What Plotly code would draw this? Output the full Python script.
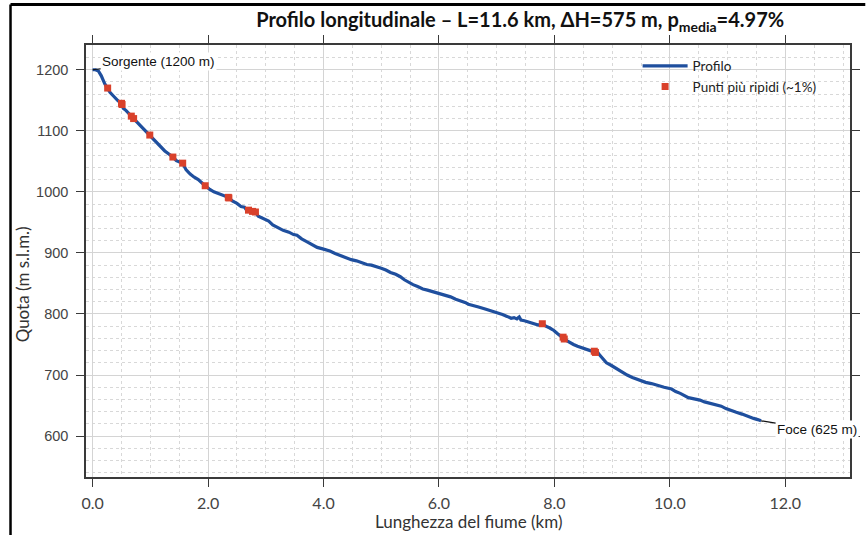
import plotly.graph_objects as go

# Longitudinal river profile: distance from source (km) and elevation (m a.s.l.)
dist_km = [
    0.00, 0.05, 0.10, 0.15, 0.21, 0.26, 0.30, 0.36, 0.44, 0.50, 0.53, 0.58, 0.63, 0.67, 0.71,
    0.77, 0.84, 0.90, 0.95, 0.99, 1.05, 1.12, 1.18, 1.25, 1.32, 1.39, 1.45, 1.50, 1.56, 1.62,
    1.69, 1.76, 1.83, 1.90, 1.95, 2.03, 2.10, 2.18, 2.26, 2.35, 2.42, 2.50, 2.57, 2.63, 2.66,
    2.70, 2.77, 2.82, 2.87, 2.97, 3.05, 3.12, 3.20, 3.30, 3.40, 3.48, 3.54, 3.62, 3.70, 3.78,
    3.89, 3.97, 4.05, 4.11, 4.20, 4.30, 4.40, 4.48, 4.57, 4.66, 4.75, 4.83, 4.91, 5.00, 5.08,
    5.16, 5.25, 5.33, 5.40, 5.48, 5.55, 5.63, 5.72, 5.80, 5.88, 5.94, 6.00, 6.05, 6.12, 6.20,
    6.29, 6.39, 6.45, 6.51, 6.60, 6.70, 6.80, 6.91, 7.00, 7.10, 7.18, 7.25, 7.30, 7.35, 7.39,
    7.42, 7.48, 7.55, 7.65, 7.72, 7.79, 7.85, 7.92, 7.99, 8.05, 8.10, 8.16, 8.22, 8.28, 8.33,
    8.40, 8.48, 8.55, 8.62, 8.70, 8.75, 8.78, 8.81, 8.86, 8.90, 8.98, 9.05, 9.12, 9.18, 9.26,
    9.35, 9.45, 9.52, 9.58, 9.68, 9.78, 9.90, 10.03, 10.10, 10.18, 10.25, 10.32, 10.42, 10.52,
    10.60, 10.70, 10.80, 10.89, 10.97, 11.05, 11.15, 11.25, 11.35, 11.45, 11.52, 11.58,
]
quota_m = [
    1200, 1200, 1198, 1190, 1177, 1170, 1163, 1157, 1149, 1145, 1137, 1133, 1127, 1124, 1120,
    1114, 1108, 1101, 1097, 1093, 1086, 1080, 1073, 1067, 1062, 1057, 1051, 1049, 1047, 1036,
    1029, 1024, 1020, 1014, 1010, 1004, 1000, 997, 993, 991, 985, 981, 976, 975, 971,
    970, 968, 967, 960, 955, 952, 946, 942, 937, 934, 930, 929, 923, 919, 915,
    909, 907, 905, 903, 899, 895, 892, 889, 887, 884, 881, 880, 878, 875, 872,
    868, 865, 861, 856, 851, 848, 845, 841, 839, 837, 835, 834, 833, 830, 828,
    824, 821, 819, 816, 813, 811, 808, 805, 802, 799, 796, 793, 794, 792, 795,
    790, 789, 787, 783, 782, 784, 780, 777, 773, 768, 765, 760, 756, 752, 750,
    747, 744, 742, 740, 738, 737, 733, 730, 724, 720, 716, 712, 708, 704, 700,
    696, 692, 690, 688, 686, 683, 680, 677, 673, 670, 667, 663, 661, 659,
    656, 654, 651, 649, 645, 642, 639, 636, 632, 629, 627, 625,
]

# Steepest points (~1% of the profile samples)
steep_km = [0.26, 0.50, 0.51, 0.67, 0.71, 0.99, 1.39, 1.56, 1.95, 2.35, 2.36,
            2.70, 2.77, 2.82, 7.79, 8.15, 8.17, 8.69, 8.71]
steep_m = [1170, 1145, 1143, 1124, 1120, 1093, 1057, 1047, 1010, 991, 990,
           970, 968, 967, 784, 762, 759, 739, 737]

x_ticks = [0, 2, 4, 6, 8, 10, 12]
x_ticktext = ["0.0", "2.0", "4.0", "6.0", "8.0", "10.0", "12.0"]
y_ticks = [600, 700, 800, 900, 1000, 1100, 1200]

title_text = ("<b>Profilo longitudinale – L=11.6 km, ΔH=575 m, "
              "p<sub>media</sub>=4.97%</b>")

fig = go.Figure()
fig.add_trace(go.Scatter(
    x=dist_km, y=quota_m, mode="lines", name="Profilo",
    line=dict(color="#1f4f9e", width=3.2),
))
fig.add_trace(go.Scatter(
    x=steep_km, y=steep_m, mode="markers", name="Punti più ripidi (~1%)",
    marker=dict(symbol="square", size=7, color="#d9412b"),
))

axis_common = dict(
    showline=True, linecolor="#3a3a3a", linewidth=1.5, mirror="ticks",
    ticks="outside", ticklen=8, tickcolor="#3a3a3a", tickwidth=1.2,
    showgrid=True, gridcolor="#d4d4d4", gridwidth=1.2, zeroline=False,
)

fig.update_xaxes(
    range=[-0.115, 13.12], tickvals=x_ticks, ticktext=x_ticktext,
    tickfont=dict(family="Lato", size=16, color="#444"),
    ticklabelstandoff=3,
    minor=dict(dtick=0.5, showgrid=True, griddash="dot", gridcolor="#d8d8d8", gridwidth=1),
    **axis_common,
)
fig.update_yaxes(
    range=[533, 1240.5], tickvals=y_ticks,
    tickfont=dict(family="Liberation Sans", size=14.5, color="#444"),
    ticklabelstandoff=5,
    minor=dict(dtick=20, showgrid=True, griddash="dot", gridcolor="#d8d8d8", gridwidth=1),
    **axis_common,
)

fig.add_annotation(
    x=0, y=1200, xref="x", yref="y", text="Sorgente (1200 m)",
    showarrow=True, arrowhead=0, arrowwidth=1.2, arrowcolor="#111",
    ax=66, ay=-8, bgcolor="white",
    font=dict(family="Liberation Sans", size=13.5, color="#111"),
)
fig.add_annotation(
    x=dist_km[-1], y=quota_m[-1], xref="x", yref="y", text="Foce (625 m)",
    showarrow=True, arrowhead=0, arrowwidth=1.2, arrowcolor="#111",
    ax=56, ay=9, bgcolor="white",
    font=dict(family="Liberation Sans", size=13.5, color="#111"),
)

# Axis titles
fig.add_annotation(
    x=-0.083, y=0.445, xref="paper", yref="paper", text="Quota (m s.l.m.)",
    textangle=-90, showarrow=False, xanchor="center", yanchor="middle",
    font=dict(family="Lato", size=17, color="#333"),
)
fig.add_annotation(
    x=0.5, y=-0.104, xref="paper", yref="paper", text="Lunghezza del fiume (km)",
    showarrow=False, xanchor="center", yanchor="middle",
    font=dict(family="Lato", size=17, color="#333"),
)

# Outer frame (left and top edges)
fig.add_shape(type="line", xref="paper", yref="paper",
              x0=-0.0988, y0=-0.2, x1=-0.0988, y1=1.094,
              line=dict(color="black", width=2.5))
fig.add_shape(type="line", xref="paper", yref="paper",
              x0=-0.0988, y0=1.094, x1=1.02, y1=1.094,
              line=dict(color="black", width=3))

fig.update_layout(
    width=867, height=535,
    margin=dict(l=86, r=7, t=45, b=58),
    paper_bgcolor="white", plot_bgcolor="white",
    title=dict(text=title_text, x=0.6, xref="container", xanchor="center",
               y=0.962, yref="container", yanchor="middle",
               font=dict(family="Lato", size=20, color="#111")),
    legend=dict(x=0.722, y=0.987, xanchor="left", yanchor="top",
                bgcolor="rgba(0,0,0,0)", itemwidth=45,
                font=dict(family="Lato", size=13.5, color="#222"),
                tracegroupgap=2),
    showlegend=True,
)

fig.write_html("out.html")
